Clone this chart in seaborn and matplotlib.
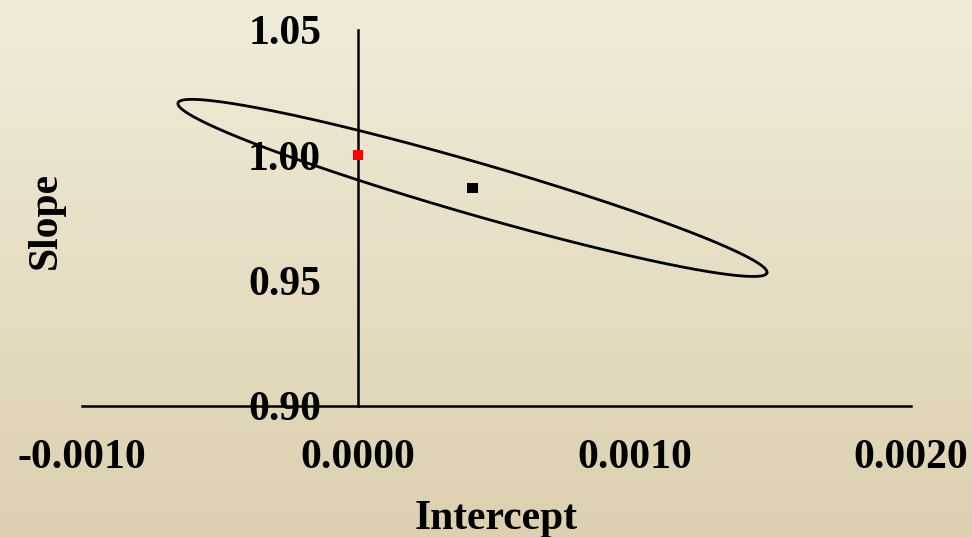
import numpy as np
import pandas as pd
import matplotlib
matplotlib.use("Agg")
import matplotlib.pyplot as plt
import seaborn as sns

# Fitted (intercept, slope) and the ideal point (0, 1)
intercept_fit = [0.000414]
slope_fit = [0.9870]
intercept_ideal = [0.0]
slope_ideal = [1.00]

# Joint confidence region: half-axis vectors (intercept, slope) around the fit
ellipse_major = [0.001065, -0.0339]
ellipse_minor = [-0.000026, -0.00995]

x_ticks = [-0.0010, 0.0000, 0.0010, 0.0020]
x_tick_labels = ["-0.0010", "0.0000", "0.0010", "0.0020"]
y_ticks = [0.90, 0.95, 1.00, 1.05]
y_tick_labels = ["0.90", "0.95", "1.00", "1.05"]

sns.set_theme(style="white")
plt.rcParams["font.family"] = ["Liberation Serif", "DejaVu Serif"]
plt.rcParams["font.weight"] = "bold"
plt.rcParams["font.size"] = 30

fig = plt.figure(figsize=(9.72, 5.37), dpi=100)

# vertical cream-to-tan background
bg = fig.add_axes([0, 0, 1, 1], zorder=-10)
top = np.array([241, 236, 218]) / 255
bottom = np.array([220, 208, 175]) / 255
f = np.linspace(0, 1, 256)[:, None]
grad = top[None, :] * (1 - f) + bottom[None, :] * f
bg.imshow(grad[:, None, :], aspect="auto", extent=[0, 1, 0, 1])
bg.set_axis_off()

ax = fig.add_axes([81.5 / 972, 1 - 406 / 537, (911 - 81.5) / 972, (406 - 30) / 537])
ax.patch.set_alpha(0)

# confidence ellipse outline
t = np.linspace(0, 2 * np.pi, 361)
ell = pd.DataFrame({
    "Intercept": intercept_fit[0] + ellipse_major[0] * np.cos(t) + ellipse_minor[0] * np.sin(t),
    "Slope": slope_fit[0] + ellipse_major[1] * np.cos(t) + ellipse_minor[1] * np.sin(t),
})
sns.lineplot(data=ell, x="Intercept", y="Slope", sort=False, estimator=None,
             color="black", lw=2.0, ax=ax)

pts_fit = pd.DataFrame({"Intercept": intercept_fit, "Slope": slope_fit})
pts_ideal = pd.DataFrame({"Intercept": intercept_ideal, "Slope": slope_ideal})
sns.scatterplot(data=pts_fit, x="Intercept", y="Slope", marker="s", s=55,
                color="black", edgecolor="none", ax=ax, zorder=5)
sns.scatterplot(data=pts_ideal, x="Intercept", y="Slope", marker="s", s=55,
                color="#ff0000", edgecolor="none", ax=ax, zorder=5)

ax.set_xlim(-0.0010, 0.0020)
ax.set_ylim(0.90, 1.05)
ax.set_xticks(x_ticks)
ax.set_xticklabels(x_tick_labels)
ax.set_yticks(y_ticks)
ax.set_yticklabels(y_tick_labels)

# axes cross at intercept = 0 and slope = 0.90
ax.spines["left"].set_position(("data", 0.0))
ax.spines["bottom"].set_position(("data", 0.90))
ax.spines["top"].set_visible(False)
ax.spines["right"].set_visible(False)
for s in ("left", "bottom"):
    ax.spines[s].set_color("black")
    ax.spines[s].set_linewidth(1.8)
ax.tick_params(axis="both", length=0, colors="black", labelsize=30)
ax.tick_params(axis="y", pad=26.5)
ax.tick_params(axis="x", pad=24)
for lab in ax.get_xticklabels() + ax.get_yticklabels():
    lab.set_fontweight("bold")

ax.set_xlabel("")
ax.set_ylabel("")
fig.text(496 / 972, 1 - 519 / 537, "Intercept", ha="center", va="center",
         fontsize=30, fontweight="bold", color="black")
fig.text(46 / 972, 1 - 220 / 537, "Slope", ha="center", va="center",
         rotation=90, fontsize=30, fontweight="bold", color="black")

fig.savefig("out.png", dpi=100)
